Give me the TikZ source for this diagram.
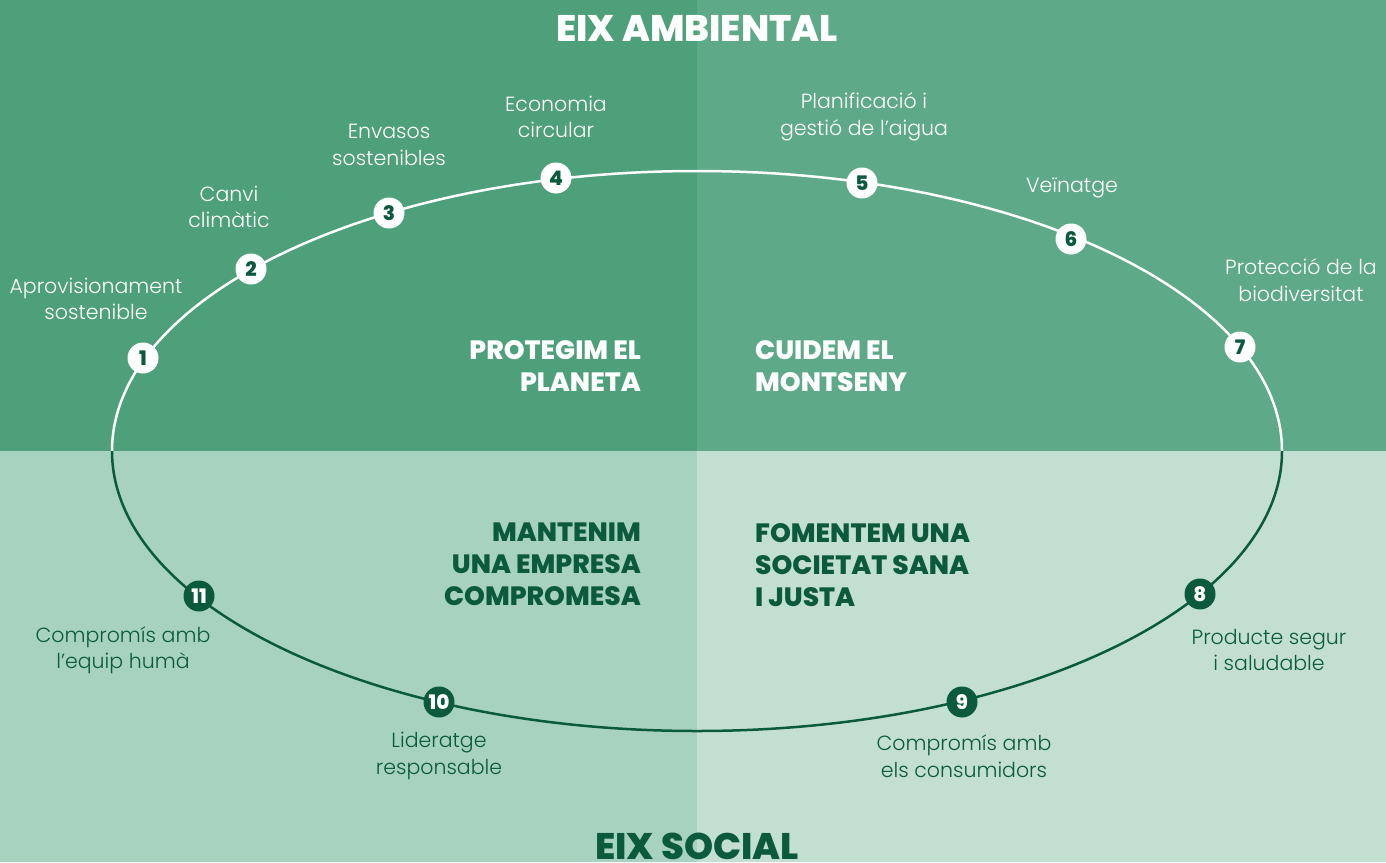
\documentclass[tikz,border=0pt]{standalone}
\usepackage{fontspec}
\setmainfont{Poppins}
\newfontfamily\thinfont{Poppins Light}
\newfontfamily\heavyfont{Poppins ExtraBold}
\definecolor{leafdark}{HTML}{4EA07A}
\definecolor{leafmid}{HTML}{5EAA88}
\definecolor{mintdark}{HTML}{A7D2BF}
\definecolor{mintlight}{HTML}{C3DFD1}
\definecolor{pine}{HTML}{0B5A3D}
\tikzset{
  numdot/.style={circle,minimum size=31pt,inner sep=0pt,font=\heavyfont\fontsize{20}{20}\selectfont},
  topdot/.style={numdot,fill=white,text=pine},
  lowdot/.style={numdot,fill=pine,text=white},
  axlabel/.style={align=center,inner sep=0pt,font=\thinfont\fontsize{20.5}{26.5}\selectfont},
  motto/.style={inner sep=0pt,font=\heavyfont\fontsize{26.5}{32}\selectfont},
  axtitle/.style={inner sep=0pt,font=\heavyfont\fontsize{37}{37}\selectfont}
}

\begin{document}
\begin{tikzpicture}[x=1pt,y=-1pt]
  \useasboundingbox (0,0) rectangle (1386,862);
  \clip (0,0) rectangle (1386,862);

  \fill[leafdark] (0,0) rectangle (697,451);
  \fill[leafmid] (697,0) rectangle (1386,451);
  \fill[mintdark] (0,451) rectangle (697,862);
  \fill[mintlight] (697,451) rectangle (1386,862);

  \draw[white,line width=2.5pt] (112,451) arc[start angle=180,end angle=0,x radius=585pt,y radius=280pt];
  \draw[pine,line width=2.5pt] (112,451) arc[start angle=180,end angle=360,x radius=585pt,y radius=280pt];

  \node[axtitle,text=white] (ambiental) at (697,28) {EIX AMBIENTAL};
  \node[axtitle,text=pine] (social) at (697,846) {EIX SOCIAL};

  \node[motto,text=white,align=right,anchor=north east] (planeta) at (641,340) {PROTEGIM EL\\PLANETA};
  \node[motto,text=white,align=left,anchor=north west] (montseny) at (755,340) {CUIDEM EL\\MONTSENY};
  \node[motto,text=pine,align=right,anchor=north east] (empresa) at (641,523) {MANTENIM\\UNA EMPRESA\\COMPROMESA};
  \node[motto,text=pine,align=left,anchor=north west] (societat) at (755,523) {FOMENTEM UNA\\SOCIETAT SANA\\I JUSTA};

  \foreach \n/\px/\py/\txt/\lx/\ly in {
      1/143/358/{Aprovisionament\\sostenible}/96/299,
      2/251/269/{Canvi\\climàtic}/229/207,
      3/389/213/{Envasos\\sostenibles}/389/145,
      4/556/178/{Economia\\circular}/556/117,
      5/862/183/{Planificació i\\gestió de l’aigua}/864/117,
      6/1071/239/{Veïnatge}/1072/188,
      7/1240/347/{Protecció de la\\biodiversitat}/1301/280} {
    \node[topdot] (n\n) at (\px,\py) {\n};
    \node[axlabel,text=white] (l\n) at (\lx,\ly) {\txt};
  }
  \foreach \n/\px/\py/\txt/\lx/\ly in {
      8/1200/594/{Producte segur\\i saludable}/1269/650,
      9/962/702/{Compromís amb\\els consumidors}/964/756,
      10/439/702/{Lideratge\\responsable}/439/756,
      11/199/596/{Compromís amb\\l’equip humà}/123/650} {
    \node[lowdot] (n\n) at (\px,\py) {\n};
    \node[axlabel,text=pine] (l\n) at (\lx,\ly) {\txt};
  }
\end{tikzpicture}
\end{document}
